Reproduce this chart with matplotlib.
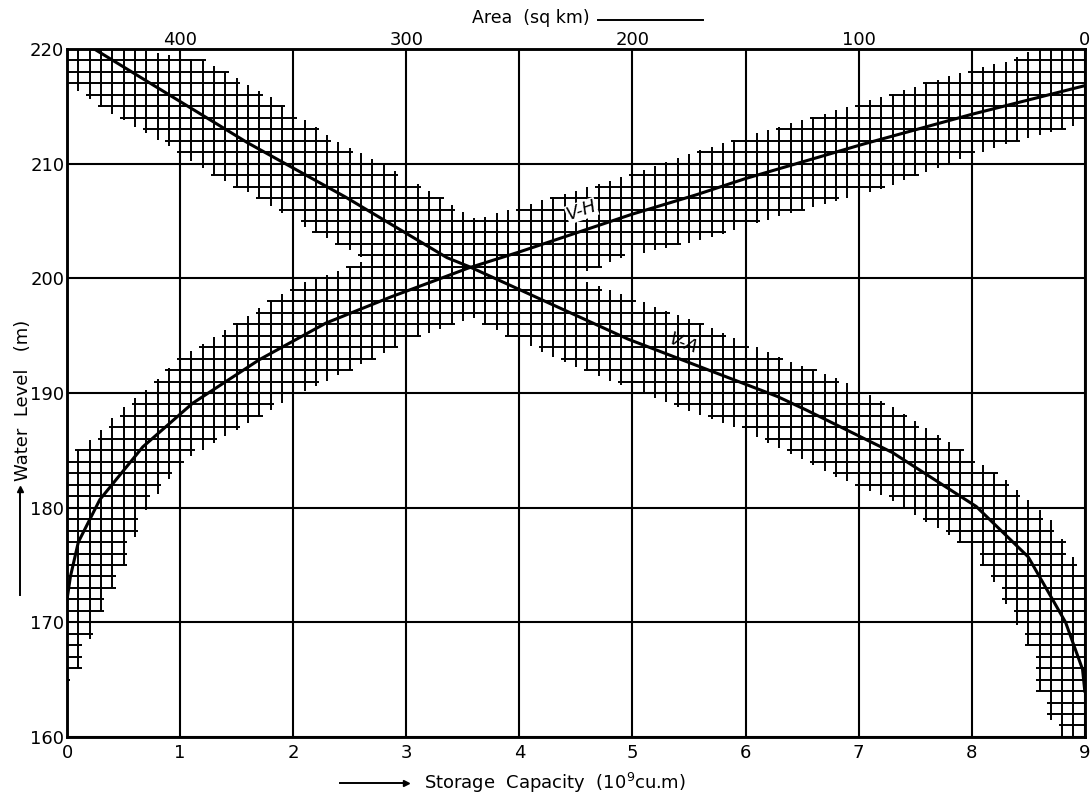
import numpy as np
import matplotlib.pyplot as plt
from matplotlib.lines import Line2D

plt.rcParams['font.family'] = ['DejaVu Sans']

# V-H curve: storage capacity (10^9 cu.m) vs water level (m)
vh_storage = [0.0, 0.03, 0.1, 0.29, 0.67, 1.11, 1.70, 2.29, 2.87, 3.28, 3.55, 4.0, 5.0, 5.57, 6.0, 7.04, 8.0, 9.0]
vh_level = [172.0, 174.0, 177.0, 180.7, 185.3, 189.1, 192.9, 196.1, 198.4, 199.9, 200.9, 202.3, 205.6, 207.3, 208.7, 211.7, 214.3, 216.8]

# V-A curve: water surface area (sq km) vs water level (m)
va_area = [438, 370, 327, 282, 272, 202, 136, 123, 85, 48, 25, 8.5, 1, 0]
va_level = [220.0, 211.8, 207.1, 201.8, 201.0, 194.7, 189.7, 188.5, 184.8, 180.1, 175.7, 170.0, 165.9, 164.0]

# uncertainty band round V-H (storage axis)
vh_band_pos = [0.0, 0.1, 0.3, 0.5, 0.7, 1.0, 1.5, 2.0, 2.5, 3.0, 3.5, 4.2, 4.9, 5.6, 6.5, 7.2, 7.9, 8.3, 8.6, 9.0]
vh_band_hi = [184, 185, 186.8, 188.8, 190.3, 193.1, 196.1, 199.3, 201.0, 203.0, 204.8, 206.8, 208.8, 211.2, 213.8, 215.8, 217.9, 218.9, 220.2, 221]
vh_band_lo = [165, 166, 171, 175, 179.8, 183.9, 186.8, 189.7, 192.0, 194.5, 196.3, 199.0, 201.8, 203.3, 206.0, 207.8, 210.4, 211.7, 212.5, 213.5]

# uncertainty band round V-A (area axis)
va_hi_area = [450, 390, 380, 360, 345, 330, 320, 300, 275, 265, 250, 235, 220, 195, 165, 135, 105, 85, 60, 35, 15, 5, 0]
va_hi_level = [221, 219, 218, 215.8, 213.8, 211.9, 210.9, 208.8, 205.8, 204.8, 203.3, 201.5, 199.7, 197.9, 195.7, 193.1, 190.9, 188.8, 185.7, 182.4, 178.9, 175.7, 174.5]
va_lo_area = [450, 435, 410, 400, 385, 365, 349, 340, 320, 300, 275, 253, 230, 208, 180, 152, 133, 110, 88, 55, 47, 40, 32, 25, 20, 15, 10, 0]
va_lo_level = [217, 214.9, 212.1, 210.9, 209, 207.0, 204.9, 204, 201.9, 199.5, 197, 194.8, 192.7, 190.9, 188.8, 186.8, 185.0, 182.7, 180.9, 177, 175.5, 173.5, 170.5, 168, 164, 161.5, 160, 159]

x_ticks = [0, 1, 2, 3, 4, 5, 6, 7, 8, 9]
y_ticks = [160, 170, 180, 190, 200, 210, 220]
area_ticks = [400, 300, 200, 100, 0]


def hatch_band(ax, pos, lo, hi, lo_pos, cols, rows, cell):
    pos = np.asarray(pos, float)
    lo_pos = np.asarray(lo_pos, float)
    o1 = np.argsort(pos)
    o2 = np.argsort(lo_pos)
    top = np.interp(cols, pos[o1], np.asarray(hi, float)[o1])
    bot = np.interp(cols, lo_pos[o2], np.asarray(lo, float)[o2])
    ax.vlines(cols, bot, top, color='black', lw=1.4, zorder=2)
    for y in rows:
        inside = cols[(bot <= y) & (top >= y)]
        if len(inside):
            ax.hlines(y, inside.min() - 0.3 * cell, inside.max() + 0.3 * cell,
                      color='black', lw=1.4, zorder=2)


fig = plt.figure(figsize=(10.92, 7.95), dpi=100)
ax = fig.add_axes([0.0614, 0.073, 0.932, 0.8654])
ax.set_xlim(0, 9)
ax.set_ylim(160, 220)

rows = np.arange(160, 221, 1)
hatch_band(ax, vh_band_pos, vh_band_lo, vh_band_hi, vh_band_pos,
           np.round(np.arange(0, 9.001, 0.1), 2), rows, 0.1)

ax.plot(vh_storage, vh_level, color='black', lw=2.2, zorder=4)

ax.set_xticks(x_ticks)
ax.set_yticks(y_ticks)
ax.grid(True, color='black', lw=1.5, zorder=1)
ax.set_axisbelow(True)
ax.tick_params(length=0, labelsize=13, pad=5)
ax.tick_params(axis='y', pad=2)
for s in ax.spines.values():
    s.set_linewidth(1.8)

ax2 = ax.twiny()
ax2.set_xlim(450, 0)
ax2.set_ylim(160, 220)
hatch_band(ax2, va_hi_area, va_lo_level, va_hi_level, va_lo_area,
           np.arange(0, 451, 5.0), rows, 5.0)
ax2.plot(va_area, va_level, color='black', lw=2.2, zorder=4)
ax2.set_xticks(area_ticks)
ax2.tick_params(length=0, labelsize=13, pad=0)
for s in ax2.spines.values():
    s.set_linewidth(1.8)

ax.text(4.55, 205.9, 'V-H', rotation=19, fontsize=13, style='italic',
        ha='center', va='center', zorder=5,
        bbox=dict(facecolor='white', edgecolor='none', pad=0.3))
ax.text(5.45, 194.3, 'V-A', rotation=-21, fontsize=13, style='italic',
        ha='center', va='center', zorder=5,
        bbox=dict(facecolor='white', edgecolor='none', pad=0.3))

# axis captions with drawn arrows, as in the original sheet
fig.text(0.432, 0.977, 'Area  (sq km)', fontsize=12.5, ha='left', va='center')
fig.add_artist(Line2D([0.548, 0.644], [0.975, 0.975], color='black', lw=1.4))

fig.text(0.388, 0.015, 'Storage  Capacity  (10$^9$cu.m)', fontsize=13, ha='left', va='center')
fig.add_artist(Line2D([0.311, 0.37], [0.015, 0.015], color='black', lw=1.4))
fig.add_artist(Line2D([0.372], [0.015], marker='>', color='black', markersize=4))

fig.text(0.021, 0.497, 'Water  Level   (m)', fontsize=13, rotation=90, ha='center', va='center')
fig.add_artist(Line2D([0.018, 0.018], [0.252, 0.383], color='black', lw=1.4))
fig.add_artist(Line2D([0.018], [0.385], marker='^', color='black', markersize=4))

fig.savefig('out.png', dpi=100)
